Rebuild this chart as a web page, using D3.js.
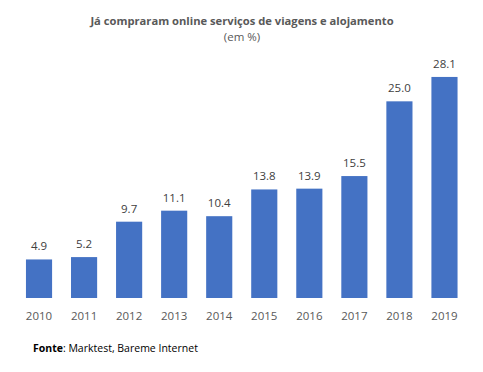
<!DOCTYPE html>
<html>
<head>
<meta charset="utf-8">
<script src="https://cdn.jsdelivr.net/npm/d3@7"></script>
<style>
  body { margin: 0; background: #fff; }
  text { font-family: "Open Sans", sans-serif; }
</style>
</head>
<body>
<div id="chart"></div>
<script>
var years = ["2010", "2011", "2012", "2013", "2014", "2015", "2016", "2017", "2018", "2019"];
var values = [4.9, 5.2, 9.7, 11.1, 10.4, 13.8, 13.9, 15.5, 25.0, 28.1];

var width = 483, height = 372;

var svg = d3.select('#chart')
  .append('svg')
    .attr('width', width)
    .attr('height', height);

// eixos
var x = d3.scaleBand()
  .domain(years)
  .range([16.5, 467])
  .paddingInner(0.42)
  .paddingOuter(0.21);

var y = d3.scaleLinear()
  .domain([0, 30])
  .range([298, 62]);

svg.append('text')
  .attr('x', 242).attr('y', 25)
  .attr('text-anchor', 'middle')
  .style('font-size', '11.2px')
  .style('font-weight', 'bold')
  .style('fill', '#595959')
  .text('Já compraram online serviços de viagens e alojamento');

svg.append('text')
  .attr('x', 242).attr('y', 41)
  .attr('text-anchor', 'middle')
  .style('font-size', '11.5px')
  .style('fill', '#595959')
  .text('(em %)');

svg.selectAll('rect.bar')
  .data(values).enter()
  .append('rect')
    .attr('class', 'bar')
    .attr('x', function(d, i) { return x(years[i]); })
    .attr('y', function(d) { return y(d); })
    .attr('width', x.bandwidth())
    .attr('height', function(d) { return y(0) - y(d); })
    .style('fill', '#4472C4');

svg.selectAll('text.val')
  .data(values).enter()
  .append('text')
    .attr('class', 'val')
    .attr('x', function(d, i) { return x(years[i]) + x.bandwidth() / 2; })
    .attr('y', function(d) { return y(d) - 9; })
    .attr('text-anchor', 'middle')
    .style('font-size', '11.5px')
    .style('fill', '#404040')
    .text(function(d) { return d.toFixed(1); });

var xAxis = svg.append('g')
  .attr('transform', 'translate(0,298)')
  .call(d3.axisBottom(x).tickSize(0).tickPadding(14));
xAxis.select('.domain').remove();
xAxis.selectAll('text')
  .style('font-family', '"Open Sans", sans-serif')
  .style('font-size', '11.5px')
  .style('fill', '#595959');

var fonte = svg.append('text')
  .attr('x', 33).attr('y', 352)
  .style('font-size', '10.5px')
  .style('fill', '#000');
fonte.append('tspan').style('font-weight', 'bold').text('Fonte');
fonte.append('tspan').text(': Marktest, Bareme Internet');
</script>
</body>
</html>
